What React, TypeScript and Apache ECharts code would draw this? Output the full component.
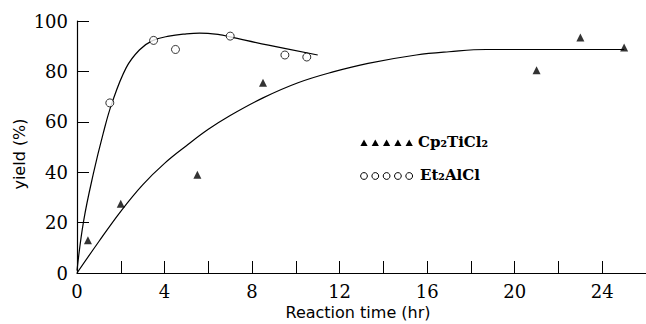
import React, { useEffect, useRef } from "react";
import * as echarts from "echarts";

// Measured points
const cpX = [0.5, 2, 5.5, 8.5, 21, 23, 25];
const cpY = [13, 27.5, 39, 75.5, 80.5, 93.5, 89.5];
const etX = [1.5, 3.5, 4.5, 7, 9.5, 10.5];
const etY = [67.5, 92.3, 88.7, 94, 86.5, 85.7];

// Fitted curves
const fitEtX = [0, 0.3, 0.75, 1.2, 1.6, 2.25, 2.85, 3.45, 4.2, 5.0, 5.6, 6.5, 7.0, 8.75, 11.0];
const fitEtY = [1, 20.5, 39.5, 55.5, 67.5, 81.5, 88.5, 92.2, 94.0, 94.9, 95.2, 94.6, 93.7, 90.4, 86.5];
const fitCpX = [0, 1, 2, 3, 4, 5, 6, 7, 8.5, 10.1, 11.7, 13.3, 15.5, 17.0, 18.7, 25.0];
const fitCpY = [0, 12.5, 24.5, 35, 43.5, 50.5, 57, 62.5, 69.5, 75.5, 79.8, 83.2, 86.5, 87.8, 88.7, 88.7];

// Axis ticks
const xTickValues = [2, 4, 6, 8, 10, 12, 14, 16, 18, 20, 22, 24];
const yTickValues = [20, 40, 60, 80, 100];

const legendNames = ["Cp₂TiCl₂", "Et₂AlCl"];
const xTitle = "Reaction time (hr)";
const yTitle = "yield (%)";

const zip = (xs: number[], ys: number[]) => xs.map((x, i) => [x, ys[i]]);

export default function App() {
  const ref = useRef<HTMLDivElement>(null);
  useEffect(() => {
    if (!ref.current) return;
    const chart = echarts.init(ref.current, null, { renderer: "svg" });
    const legendX = [364, 375.3, 386.6, 397.9, 409.2];
    const tri = (cx: number, cy: number) => ({
      type: "polygon",
      shape: { points: [[cx - 3.6, cy + 3], [cx + 3.6, cy + 3], [cx, cy - 3.6]] },
      style: { fill: "#000" },
    });
    const circ = (cx: number, cy: number) => ({
      type: "circle",
      shape: { cx, cy, r: 3.4 },
      style: { fill: "#fff", stroke: "#000", lineWidth: 1 },
    });
    const richLabel = {
      formatter: "{a|{value}}",
      rich: { a: { fontFamily: "DejaVu Serif", fontSize: 18, color: "#000" } },
      color: "#000",
      fontFamily: "DejaVu Serif",
      fontSize: 18,
    };
    chart.setOption({
      animation: false,
      backgroundColor: "#fff",
      grid: { left: 77, top: 21, width: 573, height: 252 },
      xAxis: {
        type: "value",
        min: 0,
        max: 26,
        interval: 4,
        splitLine: { show: false },
        axisLine: { lineStyle: { color: "#000", width: 1.2 } },
        axisTick: { inside: true, length: 12, customValues: xTickValues, lineStyle: { color: "#000", width: 1 } },
        axisLabel: { ...richLabel, margin: 9, showMaxLabel: false },
      },
      yAxis: {
        type: "value",
        min: 0,
        max: 100,
        interval: 20,
        splitLine: { show: false },
        axisLine: { show: true, lineStyle: { color: "#000", width: 1.2 } },
        axisTick: { show: true, inside: true, length: 12, customValues: yTickValues, lineStyle: { color: "#000", width: 1 } },
        axisLabel: { ...richLabel, margin: 9 },
      },
      series: [
        {
          type: "line",
          data: zip(fitEtX, fitEtY),
          smooth: 0.4,
          symbol: "none",
          lineStyle: { color: "#000", width: 1.2 },
          z: 2,
        },
        {
          type: "line",
          data: zip(fitCpX, fitCpY),
          smooth: 0.4,
          symbol: "none",
          lineStyle: { color: "#000", width: 1.2 },
          z: 2,
        },
        {
          name: legendNames[0],
          type: "scatter",
          data: zip(cpX, cpY),
          symbol: "triangle",
          symbolSize: 8,
          itemStyle: { color: "#000" },
          z: 3,
        },
        {
          name: legendNames[1],
          type: "scatter",
          data: zip(etX, etY),
          symbol: "circle",
          symbolSize: 8,
          itemStyle: { color: "#fff", borderColor: "#000", borderWidth: 1 },
          z: 3,
        },
      ],
      graphic: [
        ...legendX.map((x) => tri(x, 143)),
        ...legendX.map((x) => circ(x, 176)),
        {
          type: "text",
          left: 418,
          top: 134,
          style: { text: legendNames[0], fill: "#000", font: "bold 15px 'DejaVu Serif'" },
        },
        {
          type: "text",
          left: 420,
          top: 167,
          style: { text: legendNames[1], fill: "#000", font: "bold 15px 'DejaVu Serif'" },
        },
        {
          type: "text",
          x: 358,
          y: 312,
          style: { text: xTitle, fill: "#000", font: "16px 'DejaVu Sans'", align: "center", verticalAlign: "middle" },
        },
        {
          type: "text",
          x: 19,
          y: 154,
          rotation: Math.PI / 2,
          style: { text: yTitle, fill: "#000", font: "16px 'DejaVu Sans'", align: "center", verticalAlign: "middle" },
        },
      ],
    });
    return () => chart.dispose();
  }, []);
  return <div ref={ref} style={{ position: "absolute", left: 0, top: 0, width: 646, height: 324 }} />;
}
